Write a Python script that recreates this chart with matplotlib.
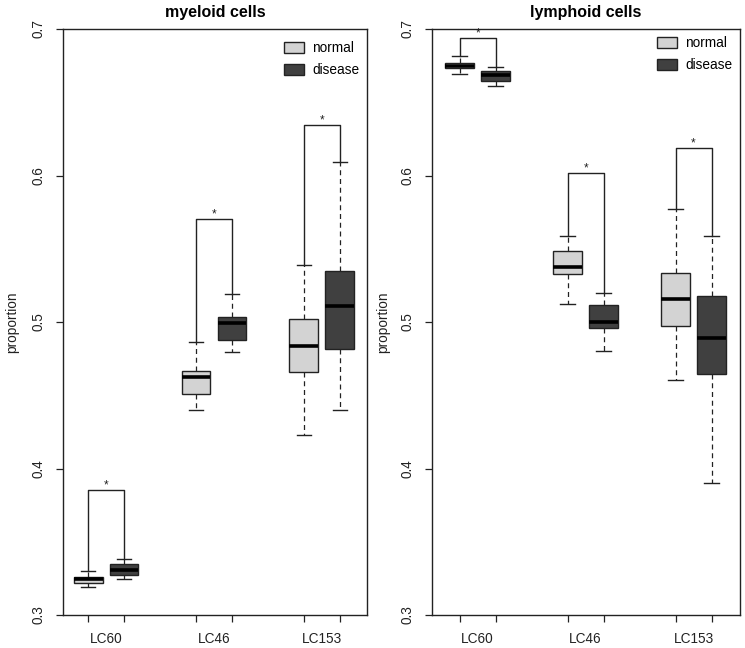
import matplotlib.pyplot as plt
from matplotlib.patches import Patch

plt.rcParams['font.family'] = ['Liberation Sans', 'DejaVu Sans']

categories = ["LC60", "LC46", "LC153"]
groups = ["normal", "disease"]

# box stats per category: (whislo, q1, med, q3, whishi)
myeloid_normal = [(0.319, 0.322, 0.3245, 0.326, 0.330),
                  (0.440, 0.4507, 0.4623, 0.4666, 0.4864),
                  (0.4227, 0.4659, 0.4835, 0.5021, 0.5388)]
myeloid_disease = [(0.3245, 0.3273, 0.331, 0.335, 0.338),
                   (0.4792, 0.4878, 0.4994, 0.5033, 0.5192),
                   (0.4402, 0.4814, 0.5108, 0.5347, 0.6094)]
myeloid_bracket = [0.3856, 0.570, 0.6344]

lymphoid_normal = [(0.6695, 0.6734, 0.675, 0.677, 0.6816),
                   (0.5124, 0.5327, 0.5377, 0.5486, 0.5586),
                   (0.4605, 0.4971, 0.5158, 0.5336, 0.577)]
lymphoid_disease = [(0.6609, 0.6645, 0.6684, 0.6715, 0.6743),
                    (0.4799, 0.4958, 0.4999, 0.5113, 0.5199),
                    (0.3904, 0.4643, 0.4891, 0.518, 0.5586)]
lymphoid_bracket = [0.694, 0.6019, 0.6185]

positions = [1, 2, 4, 5, 7, 8]
centers = [1.5, 4.5, 7.5]
fill_colors = {"normal": "#d3d3d3", "disease": "#404040"}
edge = "#222222"


def make_stats(normal, disease):
    stats = []
    for n, d in zip(normal, disease):
        for s in (n, d):
            stats.append(dict(whislo=s[0], q1=s[1], med=s[2], q3=s[3], whishi=s[4]))
    return stats


def panel(ax, title, normal, disease, bracket, xlim, label_x, leg_y):
    stats = make_stats(normal, disease)
    bp = ax.bxp(stats, positions=positions, widths=0.8, patch_artist=True,
                showfliers=False, manage_ticks=False,
                boxprops=dict(edgecolor=edge, linewidth=1.0),
                medianprops=dict(color="black", linewidth=2.6, solid_capstyle="butt"),
                whiskerprops=dict(color=edge, linewidth=0.9, linestyle=(0, (4, 3))),
                capprops=dict(color=edge, linewidth=1.0),
                capwidths=0.4)
    for i, box in enumerate(bp["boxes"]):
        box.set_facecolor(fill_colors[groups[i % 2]])

    # significance brackets from the top whiskers
    for k, top in enumerate(bracket):
        x1, x2 = positions[2 * k], positions[2 * k + 1]
        y1 = normal[k][4]
        y2 = disease[k][4]
        ax.plot([x1, x1, x2, x2], [y1, top, top, y2], color=edge, lw=1.0)
        ax.text((x1 + x2) / 2, top - 0.001, "*", ha="center", va="bottom", fontsize=8.5, color=edge)

    ax.set_xlim(*xlim)
    ax.set_ylim(0.3, 0.7)
    ax.set_yticks([0.3, 0.4, 0.5, 0.6, 0.7])
    ax.set_yticklabels(["0.3", "0.4", "0.5", "0.6", "0.7"], rotation=90, va="center")
    ax.set_xticks(positions)
    ax.set_xticklabels([""] * len(positions))
    ax.set_xticks(centers, minor=True)
    ax.set_xticklabels(categories, minor=True)
    ax.tick_params(axis="x", which="minor", length=0, pad=12, labelsize=9.8, labelcolor="#222222")
    ax.tick_params(axis="both", which="major", length=5, width=0.9, color=edge,
                   labelsize=9.8, labelcolor="#222222")
    ax.tick_params(axis="y", pad=7.5)
    for sp in ax.spines.values():
        sp.set_linewidth(1.0)
        sp.set_color(edge)
    ax.set_title(title, fontsize=11.5, fontweight="bold", pad=9)
    ax.set_ylabel("proportion", fontsize=9.8, color="#222222")
    ax.yaxis.set_label_coords(label_x, 0.5)

    handles = [Patch(facecolor=fill_colors[g], edgecolor=edge, linewidth=1.0) for g in groups]
    ax.legend(handles, groups, loc="upper right", bbox_to_anchor=(1.015, leg_y), frameon=False,
              fontsize=9.8, handlelength=1.5, handleheight=0.9, labelspacing=0.6,
              handletextpad=0.6)


fig = plt.figure(figsize=(7.45, 6.48), dpi=100)
ax1 = fig.add_axes([63 / 745, 1 - 615 / 648, 304 / 745, 586 / 648])
ax2 = fig.add_axes([432 / 745, 1 - 615 / 648, 308 / 745, 586 / 648])

panel(ax1, "myeloid cells", myeloid_normal, myeloid_disease, myeloid_bracket, (0.3, 8.76), -0.145, 1.0)
panel(ax2, "lymphoid cells", lymphoid_normal, lymphoid_disease, lymphoid_bracket, (0.234, 8.79), -0.135, 1.009)

fig.savefig("out.png", dpi=100)
